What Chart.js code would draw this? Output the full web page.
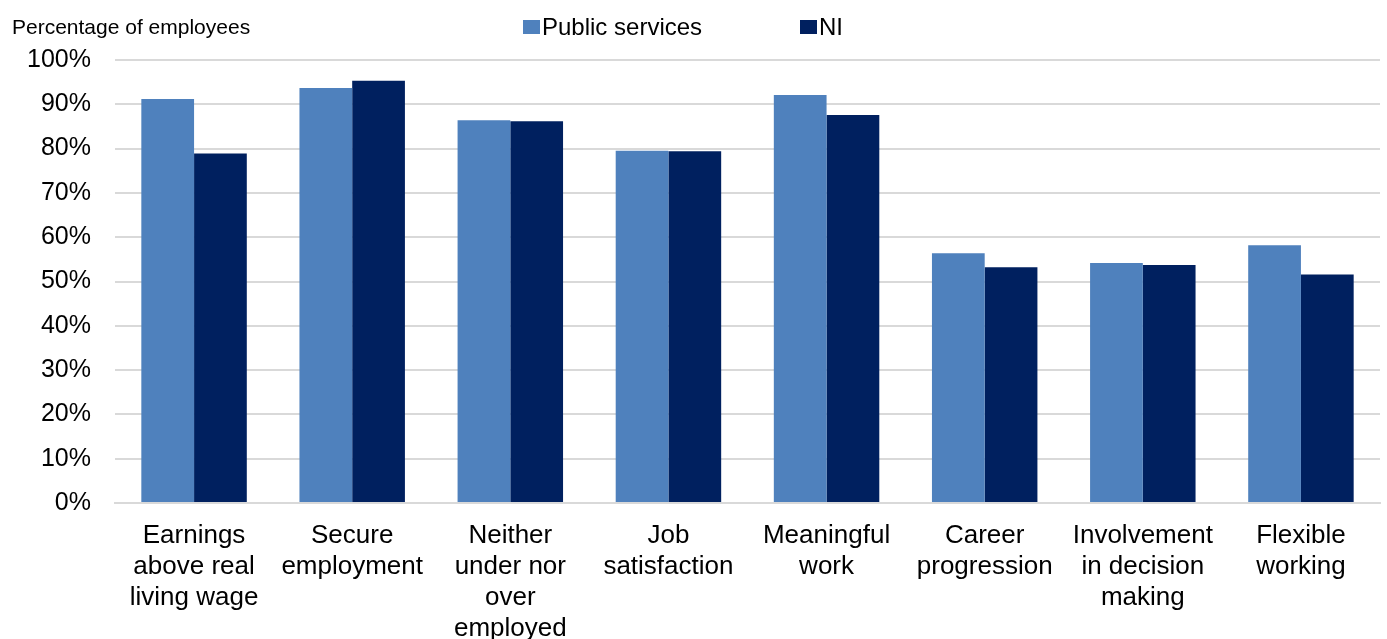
<!DOCTYPE html>
<html>
<head>
<meta charset="utf-8">
<script src="https://cdn.jsdelivr.net/npm/chart.js@4"></script>
<style>
  html, body { margin: 0; padding: 0; background: #fff; }
  #wrap { position: relative; width: 1387px; height: 639px; font-family: "Liberation Sans", Arial, sans-serif; color: #000; }
  #title { position: absolute; left: 12px; top: 15px; font-size: 21px; }
  #legend { position: absolute; top: 13px; left: 523px; font-size: 24px; }
  .item { position: absolute; white-space: nowrap; display: flex; align-items: center; }
  .box { display: inline-block; width: 17px; height: 14px; margin-right: 2px; }
</style>
</head>
<body>
<div id="wrap">
  <canvas id="chart" width="1387" height="639"></canvas>
  <div id="title">Percentage of employees</div>
  <div id="legend">
    <span class="item" style="left:0"><span class="box" style="background:#4F81BD"></span>Public services</span>
    <span class="item" style="left:277px"><span class="box" style="background:#00205F"></span>NI</span>
  </div>
</div>
<script>
const categories = [
  ["Earnings", "above real", "living wage"],
  ["Secure", "employment"],
  ["Neither", "under nor", "over", "employed"],
  ["Job", "satisfaction"],
  ["Meaningful", "work"],
  ["Career", "progression"],
  ["Involvement", "in decision", "making"],
  ["Flexible", "working"]
];
const publicServices = [91.2, 93.7, 86.4, 79.5, 92.1, 56.4, 54.2, 58.2];
const ni = [78.9, 95.3, 86.2, 79.4, 87.6, 53.2, 53.7, 51.6];
const yTicks = [0, 10, 20, 30, 40, 50, 60, 70, 80, 90, 100];

const ctx = document.getElementById("chart").getContext("2d");
new Chart(ctx, {
  type: "bar",
  data: {
    labels: categories,
    datasets: [
      { label: "Public services", data: publicServices, backgroundColor: "#4F81BD" },
      { label: "NI", data: ni, backgroundColor: "#00205F" }
    ]
  },
  options: {
    responsive: false,
    animation: false,
    categoryPercentage: 0.667,
    barPercentage: 1,
    layout: { padding: { top: 60, right: 7, left: 0, bottom: 0 } },
    plugins: { legend: { display: false }, tooltip: { enabled: false } },
    scales: {
      x: {
        grid: { display: false, drawTicks: false },
        border: { color: "#d9d9d9", width: 2 },
        ticks: {
          color: "#000",
          font: { family: "Liberation Sans", size: 26, lineHeight: 1.2 },
          padding: 17,
          maxRotation: 0,
          autoSkip: false
        },
        afterFit: s => { s.height = 136; }
      },
      y: {
        min: 0,
        max: 100,
        afterBuildTicks: s => { s.ticks = yTicks.map(v => ({ value: v })); },
        grid: { color: "#d9d9d9", lineWidth: 2, drawTicks: false },
        border: { display: false },
        ticks: {
          color: "#000",
          font: { family: "Liberation Sans", size: 25 },
          padding: 24,
          callback: v => v + "%"
        },
        afterFit: s => { s.width = 115; }
      }
    }
  }
});
</script>
</body>
</html>
